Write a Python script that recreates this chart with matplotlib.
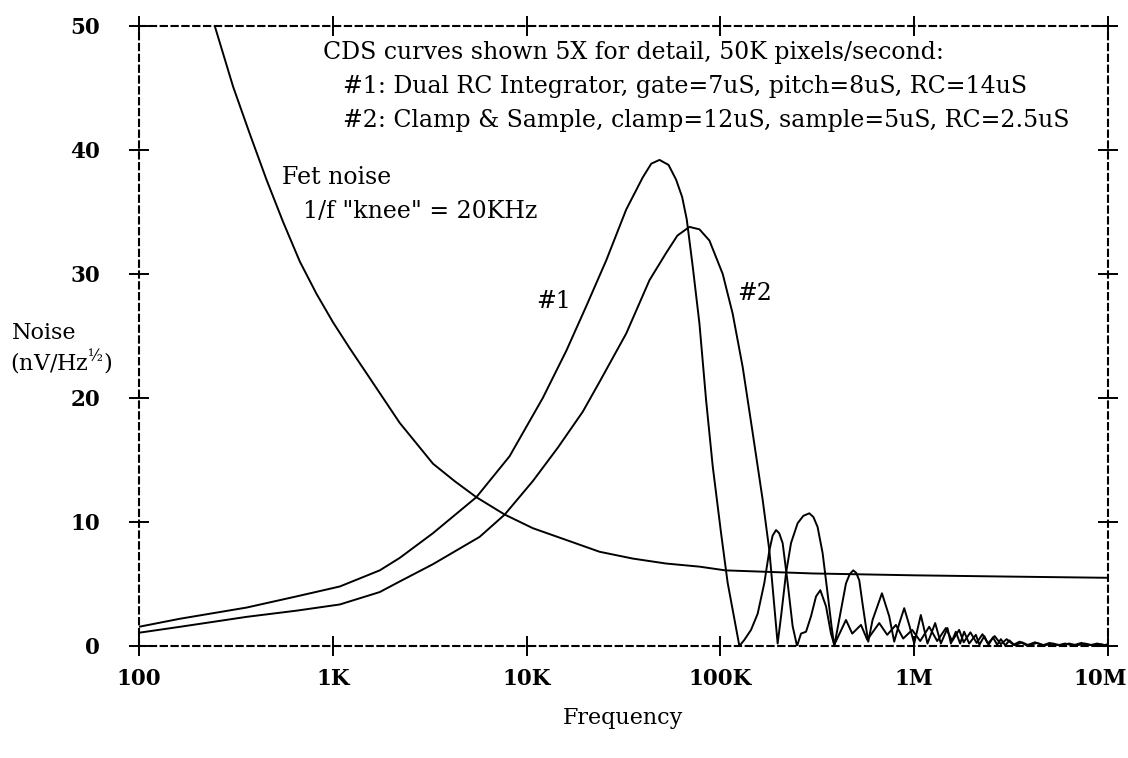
import numpy as np
import matplotlib.pyplot as plt
import matplotlib.transforms as mtransforms

plt.rcParams['font.family'] = 'DejaVu Serif'
plt.rcParams['mathtext.fontset'] = 'dejavuserif'

# Fet noise, 1/f knee at 20KHz
fet_f = [246, 306, 373, 455, 554, 676, 824, 1003, 1224, 1492, 1817, 2213,
         3289, 4250, 5505, 7710, 10770, 16020, 23790, 35320, 52500, 77960,
         106000, 300000, 1e6, 3e6, 1e7]
fet_v = [50, 45.1, 41.3, 37.6, 34.2, 31.0, 28.4, 26.1, 24.0, 22.0, 20.0, 18.0,
         14.7, 13.3, 12.0, 10.6, 9.5, 8.55, 7.6, 7.05, 6.65, 6.4,
         6.1, 5.85, 5.7, 5.6, 5.5]

# curve #1: Dual RC Integrator
c1_f = [100, 163, 359, 650, 1087, 1747, 2213, 3289, 5505, 8166, 12120, 16020,
        20310, 25760, 32660, 39780, 44000, 48500, 54000, 59110, 63500, 67050,
        71990, 77960, 84400, 91270, 100800, 109000, 125300, 133000, 143900,
        155700, 168600, 178900, 186000, 193700, 201000, 209500, 222300, 235900,
        248600, 260600, 276600, 293500, 311500, 327800, 350700, 372100, 386900,
        444600, 479000, 531400, 572400, 660000, 725800, 804800, 877600, 976500,
        1073800, 1195000, 1314000, 1457000, 1570000, 1706000, 1.8e6, 1.95e6,
        2.1e6, 2.25e6, 2.4e6, 2.6e6, 2.8e6, 3.0e6, 3.25e6, 3.5e6, 3.8e6, 4.2e6,
        4.6e6, 5.0e6, 5.5e6, 6.0e6, 6.6e6, 7.3e6, 8.0e6, 8.8e6, 9.5e6, 1e7]
c1_v = [1.55, 2.2, 3.1, 4.0, 4.8, 6.1, 7.1, 9.1, 12.0, 15.3, 20.0, 23.8,
        27.4, 31.1, 35.2, 37.8, 38.9, 39.2, 38.8, 37.6, 36.2, 34.4,
        30.6, 26.0, 19.8, 14.5, 9.1, 5.1, 0.0, 0.5, 1.3,
        2.6, 5.1, 7.7, 8.9, 9.35, 9.1, 8.3, 5.1, 1.6,
        0.0, 1.0, 1.15, 2.4, 4.0, 4.5, 3.2, 1.0, 0.1,
        2.1, 1.0, 1.7, 0.5, 1.85, 0.9, 1.7, 0.6, 1.3,
        0.4, 1.55, 0.4, 1.45, 0.4, 1.3, 0.3, 1.1,
        0.25, 0.95, 0.2, 0.8, 0.15, 0.55, 0.1, 0.35, 0.05, 0.3,
        0.05, 0.25, 0.05, 0.2, 0.05, 0.25, 0.05, 0.2, 0.05, 0.15]

# curve #2: Clamp & Sample
c2_f = [100, 163, 359, 650, 1087, 1747, 2213, 3289, 5723, 7710, 10770, 14500,
        19500, 23790, 32660, 43050, 52500, 60000, 69220, 78000, 87770, 102800,
        115700, 130300, 146700, 165200, 178900, 197400, 205600, 218200,
        231400, 250300, 268000, 287600, 302000, 317300, 336800, 357300,
        374800, 386900, 419000, 444600, 465000, 484800, 502000, 520600,
        541400, 563600, 579300, 609800, 681700, 743000, 788600, 837000,
        888100, 942300, 1000000, 1082000, 1171000, 1283000, 1373000, 1485000,
        1546000, 1640000, 1726000, 1810000, 1921000, 2080000, 2.17e6, 2.3e6,
        2.42e6, 2.55e6, 2.68e6, 2.8e6, 2.95e6, 3.1e6, 3.3e6, 3.6e6, 3.9e6,
        4.3e6, 4.7e6, 5.2e6, 5.7e6, 6.3e6, 6.9e6, 7.6e6, 8.4e6, 9.2e6, 1e7]
c2_v = [1.07, 1.55, 2.35, 2.85, 3.35, 4.35, 5.2, 6.6, 8.8, 10.6, 13.3, 16.0,
        18.9, 21.3, 25.2, 29.5, 31.7, 33.1, 33.8, 33.6, 32.7, 30.0,
        26.8, 22.5, 17.2, 11.8, 7.7, 0.2, 2.4, 5.9,
        8.3, 9.9, 10.5, 10.7, 10.4, 9.6, 7.5, 4.25,
        1.55, 0.0, 2.9, 5.05, 5.8, 6.1, 5.9, 5.3,
        3.4, 1.55, 0.35, 2.1, 4.25, 2.4, 0.35, 1.8,
        3.05, 1.7, 0.2, 2.5, 0.2, 1.85, 0.2, 1.45,
        0.2, 1.15, 0.2, 1.15, 0.2, 0.9, 0.1, 0.8,
        0.1, 0.7, 0.1, 0.55, 0.05, 0.45, 0.05, 0.3, 0.05,
        0.25, 0.05, 0.2, 0.05, 0.2, 0.05, 0.2, 0.05, 0.15, 0.0]

x_ticks = [100, 1e3, 1e4, 1e5, 1e6, 1e7]
x_labels = ['100', '1K', '10K', '100K', '1M', '10M']
y_ticks = [0, 10, 20, 30, 40, 50]

W, H = 1128, 758
fig = plt.figure(figsize=(W / 100, H / 100), dpi=100)
ax = fig.add_axes([139 / W, 1 - 646 / H, (1108 - 139) / W, (646 - 26) / H])

for f, v in [(fet_f, fet_v), (c1_f, c1_v), (c2_f, c2_v)]:
    ax.plot(f, v, color='black', lw=1.4)

ax.set_xscale('log')
ax.set_xlim(100, 1e7)
ax.set_ylim(0, 50)
ax.set_xticks(x_ticks)
ax.set_xticklabels(x_labels)
ax.set_yticks(y_ticks)
ax.minorticks_off()
ax.tick_params(direction='inout', length=14, width=1.4, top=True, right=True,
               labelsize=15.5, colors='black')
ax.tick_params(axis='x', pad=9)
ax.tick_params(axis='y', pad=21)
for lab in ax.get_xticklabels() + ax.get_yticklabels():
    lab.set_fontweight('bold')
# keep the last frequency label inside the picture
last = ax.get_xticklabels()[-1]
last.set_transform(last.get_transform() +
                   mtransforms.ScaledTranslation(-8 / 100, 0, fig.dpi_scale_trans))
for sp in ax.spines.values():
    sp.set_linestyle((0, (3, 2.2)))
    sp.set_linewidth(1.5)

def fx(px):
    return px / W

def fy(py):
    return 1 - py / H

fs = 17
fig.text(fx(323), fy(53), 'CDS curves shown 5X for detail, 50K pixels/second:',
         fontsize=fs, va='center')
fig.text(fx(343), fy(87), '#1: Dual RC Integrator, gate=7uS, pitch=8uS, RC=14uS',
         fontsize=fs, va='center')
fig.text(fx(343), fy(120), '#2: Clamp & Sample, clamp=12uS, sample=5uS, RC=2.5uS',
         fontsize=fs, va='center')
fig.text(fx(282), fy(178), 'Fet noise', fontsize=fs, va='center')
fig.text(fx(303), fy(211), '1/f "knee" = 20KHz', fontsize=fs, va='center')
fig.text(fx(554), fy(302), '#1', fontsize=fs, ha='center', va='center')
fig.text(fx(755), fy(293), '#2', fontsize=fs, ha='center', va='center')
fig.text(fx(12), fy(333), 'Noise', fontsize=16, va='center')
fig.text(fx(10), fy(362), '(nV/Hz$^{½}$)', fontsize=16, va='center')
fig.text(fx(623), fy(718), 'Frequency', fontsize=16, ha='center', va='center')

fig.savefig('out.png', dpi=100)
